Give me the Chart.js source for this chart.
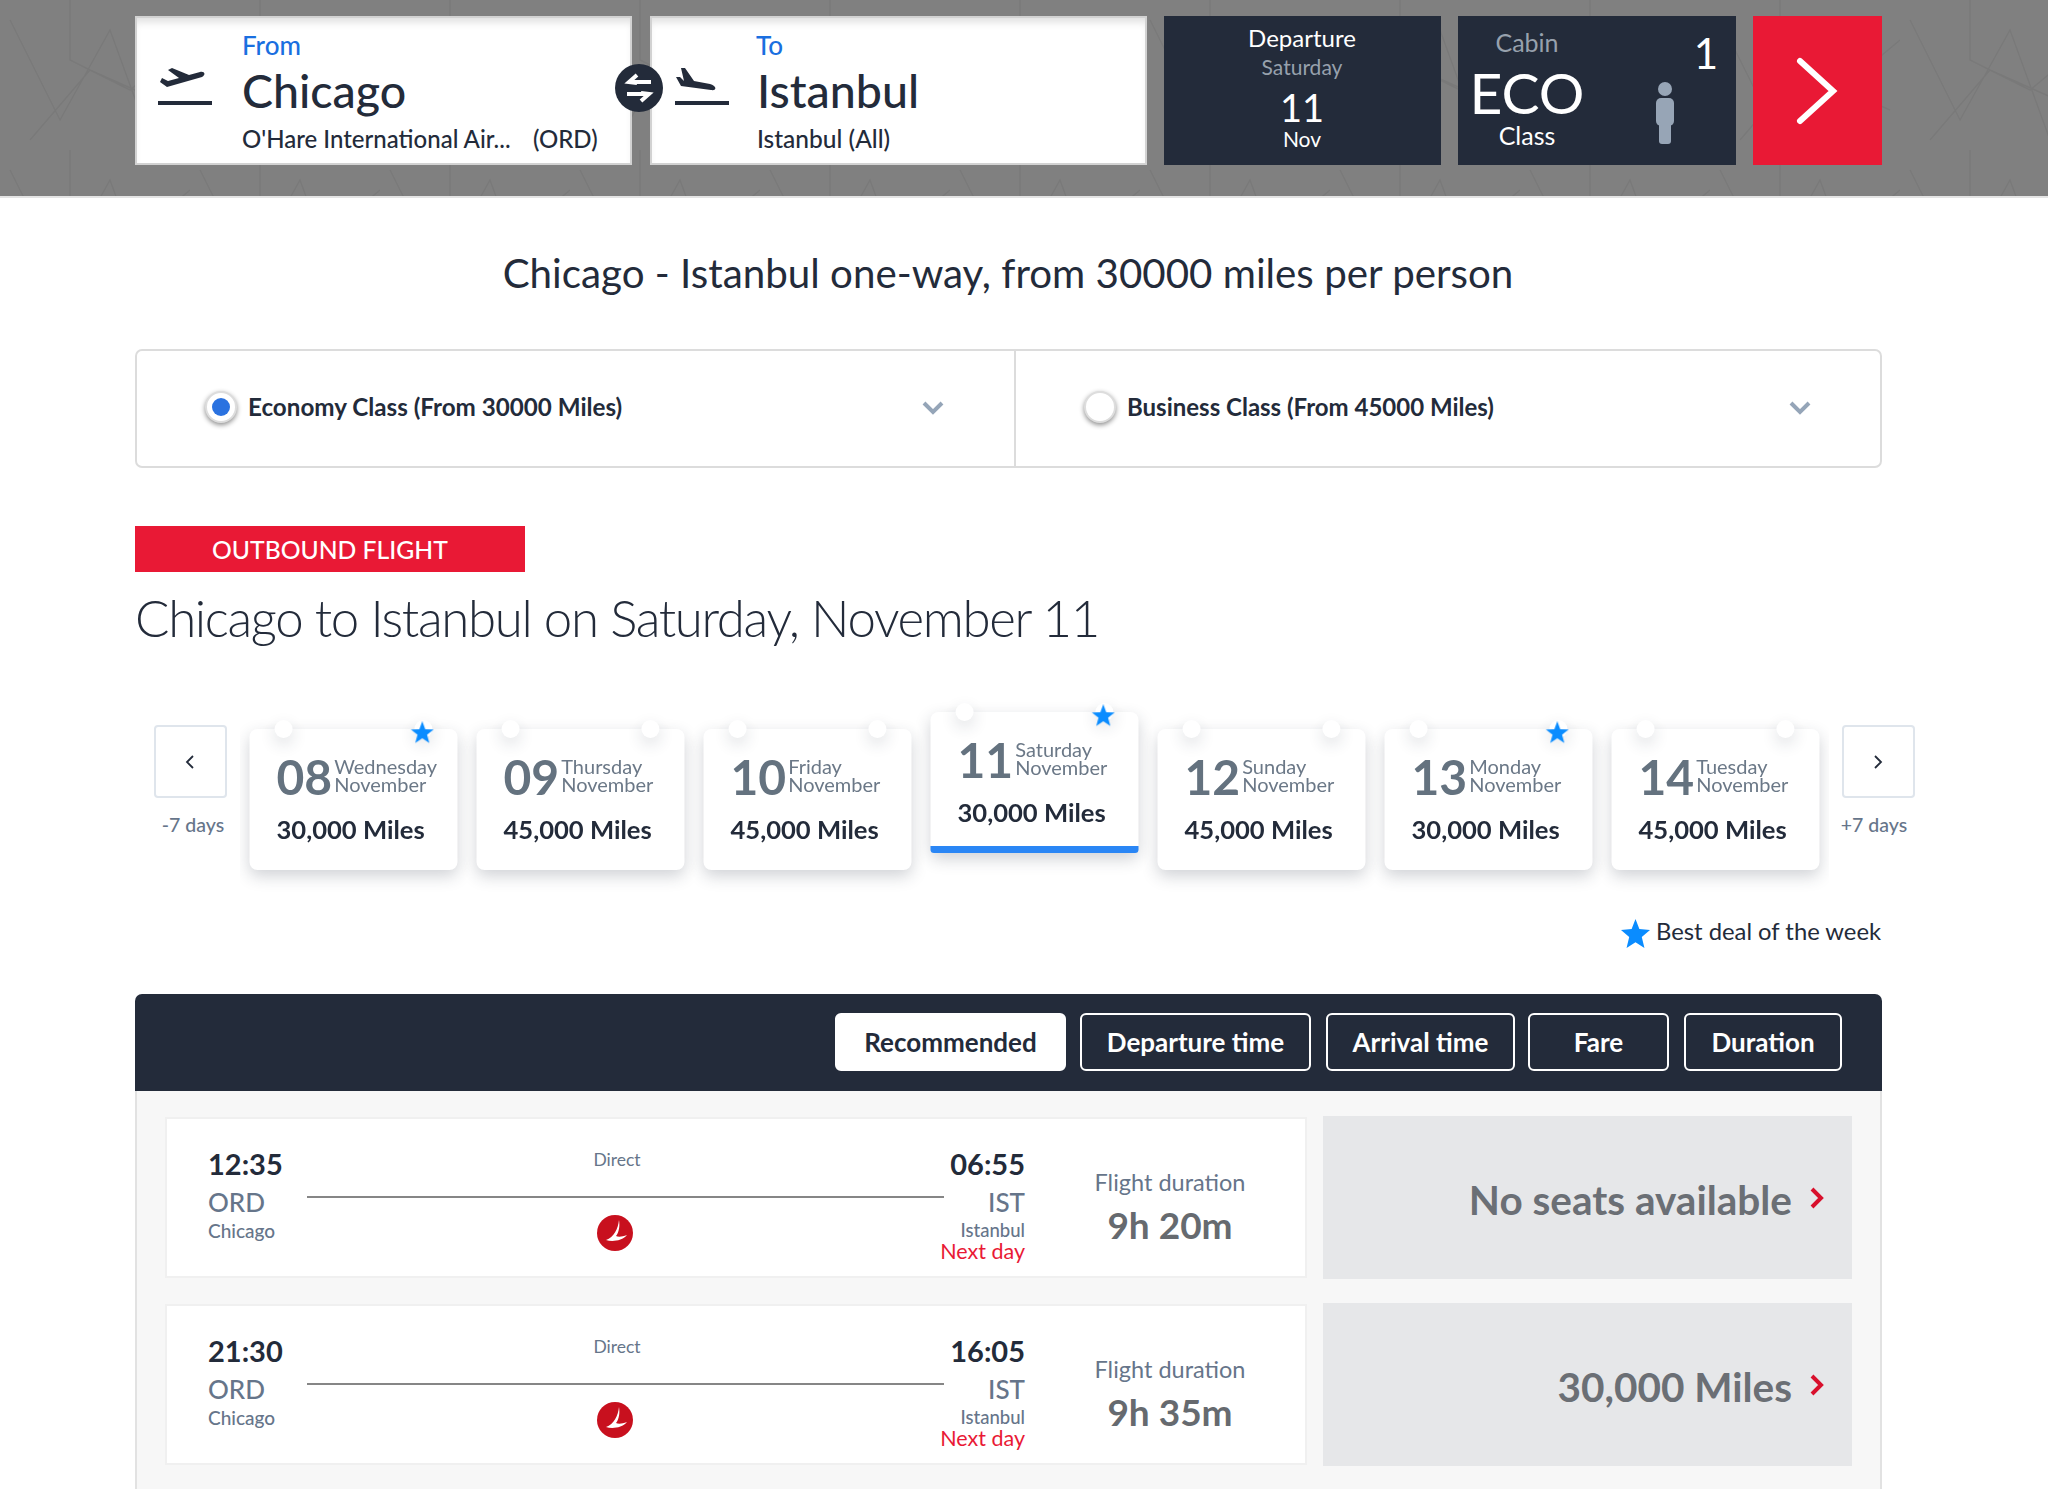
<!DOCTYPE html>
<html lang="en">
<head>
<meta charset="UTF-8">
<title>Chicago - Istanbul miles fares</title>
<script src="https://cdn.jsdelivr.net/npm/chart.js"></script>
<style>
  html, body { margin: 0; background: #fff; }
  #page { position: relative; width: 2048px; height: 1489px; overflow: hidden; font-family: Lato, "Open Sans", sans-serif; color: #232b3a; }
  .box, .txt, svg.ic { position: absolute; }
  .box { box-sizing: border-box; }
  .txt { white-space: nowrap; line-height: 0.86; z-index: 5; }
  #strip { position: absolute; left: 240px; top: 690px; z-index: 2; }
  .btn { display: flex; align-items: center; justify-content: center; border: 2px solid #fff; border-radius: 6px; color: #fff; font-size: 26px; font-weight: 700; }
</style>
</head>
<body>
<div id="page">
  <canvas id="strip" width="1589" height="210"></canvas>
</div>
<script>
// date strip
const dayNumbers = ['08', '09', '10', '11', '12', '13', '14'];
const weekdays = ['Wednesday', 'Thursday', 'Friday', 'Saturday', 'Sunday', 'Monday', 'Tuesday'];
const months = ['November', 'November', 'November', 'November', 'November', 'November', 'November'];
const milesByDay = [30000, 45000, 45000, 30000, 45000, 30000, 45000];
const bestDealDays = ['08', '11', '13'];
const selectedDay = '11';

// flights
const departTimes = ['12:35', '21:30'];
const arriveTimes = ['06:55', '16:05'];
const durations = ['9h 20m', '9h 35m'];
const fares = ['No seats available', '30,000 Miles'];

// sort buttons
const sortLabels = ['Recommended', 'Departure time', 'Arrival time', 'Fare', 'Duration'];

const page = document.getElementById('page');
const INK = '#232b3a', SLATE = '#66758a', RED = '#e91935', NAVY = '#232b3a';

function box(x, y, w, h, css) {
  const d = document.createElement('div');
  d.className = 'box';
  d.style.cssText = `left:${x}px;top:${y}px;width:${w}px;height:${h}px;${css || ''}`;
  page.appendChild(d);
  return d;
}

// align: 0 left, .5 centre, 1 right; cy is the vertical middle of the text
function put(x, cy, text, size, color, align, weight) {
  const s = document.createElement('span');
  s.className = 'txt';
  s.textContent = text;
  s.style.cssText = `left:${x}px;top:${cy}px;font-size:${size}px;color:${color};font-weight:${weight || 400};transform:translate(${-(align || 0) * 100}%,-50%);`;
  page.appendChild(s);
  return s;
}

function icon(x, y, w, h, viewBox, inner) {
  page.insertAdjacentHTML('beforeend', `<svg class="ic" style="left:${x}px;top:${y}px;z-index:5" width="${w}" height="${h}" viewBox="${viewBox}">${inner}</svg>`);
}

// header band
box(0, 0, 2048, 198, 'background:#808080;border-bottom:2px solid #e4e4e4');
page.insertAdjacentHTML('beforeend', `<svg class="ic" style="left:0;top:0" width="2048" height="196"><defs><pattern id="tile" width="190" height="150" patternUnits="userSpaceOnUse"><path d="M10 20L60 120L110 30L150 140M30 140L90 70L180 110M70 0L70 60L130 90L190 40" fill="none" stroke="#797979" stroke-width="1.5"/></pattern></defs><rect width="2048" height="196" fill="url(#tile)"/></svg>`);

const fieldCss = 'background:#fff;border:2px solid #d2d2d2;box-shadow:inset 0 8px 8px -4px rgba(0,0,0,.13)';
box(135, 16, 497, 149, fieldCss);
box(650, 16, 497, 149, fieldCss);
box(1164, 16, 277, 149, `background:${NAVY}`);
box(1458, 16, 278, 149, `background:${NAVY}`);
box(1753, 16, 129, 149, `background:${RED}`);

put(242, 45, 'From', 26, '#1a6fe0', 0, 500);
put(242, 90, 'Chicago', 46.5, INK, 0, 500);
put(242, 139, "O'Hare International Air...", 24, INK, 0, 500);
put(533, 139, '(ORD)', 24, INK, 0, 500);
put(756, 45, 'To', 26, '#1a6fe0', 0, 500);
put(757, 90, 'Istanbul', 46.5, INK, 0, 500);
put(757, 139, 'Istanbul (All)', 24.5, INK, 0, 500);

put(1302, 38, 'Departure', 24, '#fff', 0.5);
put(1302, 67, 'Saturday', 21, '#97a1ad', 0.5);
put(1302, 107, '11', 38, '#fff', 0.5);
put(1302, 139, 'Nov', 21, '#fff', 0.5);
put(1527, 43, 'Cabin', 25, '#97a1ad', 0.5);
put(1527, 93, 'ECO', 57, '#fff', 0.5);
put(1527, 136, 'Class', 25, '#fff', 0.5);
put(1706, 53, '1', 42, '#fff', 0.5);

const takeoff = `<path d="M2 14L9 19L44 9C48 7 47 3 42 4L31 7L14 0L10 2L21 10L10 13L4 10Z M0 33H54V37H0Z" fill="${INK}"/>`;
const landing = `<path d="M6 0L10 0L19 13L35 16C42 18 42 23 36 22L6 18L1 9L5 9L9 13Z M0 33H54V37H0Z" fill="${INK}"/>`;
icon(158, 68, 54, 38, '0 0 54 38', takeoff);
icon(675, 68, 54, 38, '0 0 54 38', landing);
icon(615, 64, 48, 48, '0 0 48 48', `<circle cx="24" cy="24" r="24" fill="${INK}"/><path d="M36 18H16M22 11L14 18L22 19M12 30H32M26 37L34 30L26 29" fill="none" stroke="#fff" stroke-width="4"/>`);
icon(1649, 82, 32, 62, '0 0 32 62', '<circle cx="16" cy="7" r="7" fill="#97a5b6"/><rect x="7" y="16" width="18" height="28" rx="5" fill="#97a5b6"/><rect x="10" y="40" width="12" height="22" rx="3" fill="#97a5b6"/>');
icon(1795, 56, 44, 70, '0 0 44 70', '<path d="M5 5L38 35L5 65" fill="none" stroke="#fff" stroke-width="6" stroke-linecap="round"/>');

// title and cabin selector
put(1008, 273, 'Chicago - Istanbul one-way, from 30000 miles per person', 40.3, INK, 0.5);
box(135, 349, 1747, 119, 'border:2px solid #dcdcdc;border-radius:7px');
box(1014, 350, 2, 117, 'background:#dcdcdc');
box(205, 391, 32, 32, 'border-radius:50%;background:#fff;border:2px solid #ddd;box-shadow:0 2px 5px rgba(0,0,0,.45)');
box(212, 398, 18, 18, 'border-radius:50%;background:#2a72e0');
box(1084, 391, 32, 32, 'border-radius:50%;background:#fff;border:2px solid #ddd;box-shadow:0 2px 5px rgba(0,0,0,.45)');
put(248, 407, 'Economy Class (From 30000 Miles)', 24.2, INK, 0, 700);
put(1127, 407, 'Business Class (From 45000 Miles)', 24, INK, 0, 700);
const selChevron = '<path d="M2 2L11 11L20 2" fill="none" stroke="#95a5b8" stroke-width="4"/>';
icon(922, 401, 22, 14, '0 0 22 14', selChevron);
icon(1789, 401, 22, 14, '0 0 22 14', selChevron);

box(135, 526, 390, 46, `background:${RED}`);
put(212, 550, 'OUTBOUND FLIGHT', 24.7, '#fff', 0, 500);
put(135, 618, 'Chicago to Istanbul on Saturday, November 11', 51, INK, 0, 300).style.letterSpacing = '-1.35px';

// prev / next week
box(154, 725, 73, 73, 'border:2px solid #dfe5ec;border-radius:4px');
box(1842, 725, 73, 73, 'border:2px solid #dfe5ec;border-radius:4px');
icon(185, 754, 10, 16, '0 0 10 16', `<path d="M8 2L2 8L8 14" fill="none" stroke="${INK}" stroke-width="1.8"/>`);
icon(1873, 754, 10, 16, '0 0 10 16', `<path d="M2 2L8 8L2 14" fill="none" stroke="${INK}" stroke-width="1.8"/>`);
put(193, 825, '-7 days', 19.5, SLATE, 0.5, 500);
put(1874, 825, '+7 days', 19.5, SLATE, 0.5, 500);

// filled star, the built in 'star' point style is only strokes
function starImage(size) {
  const c = document.createElement('canvas');
  c.width = c.height = size;
  const g = c.getContext('2d');
  g.fillStyle = '#0a8cff';
  g.beginPath();
  for (let i = 0; i < 10; i++) {
    const r = (i % 2 ? 0.42 : 1) * size / 2;
    const a = -Math.PI / 2 + i * Math.PI / 5;
    g.lineTo(size / 2 + r * Math.cos(a), size / 2 + r * Math.sin(a));
  }
  g.fill();
  return c;
}

// y scale is in card heights, the selected card sits a little higher
const CARD_PX = 141, LIFT = 17 / CARD_PX, NOTCH = 0.308;
const lift = d => (d === selectedDay ? LIFT : 0);

const shadowPlugin = {
  id: 'cardShadow',
  beforeDatasetDraw(chart, args) {
    const ds = chart.data.datasets[args.index];
    chart.ctx.save();
    if (ds.cardShadow) {
      chart.ctx.shadowColor = 'rgba(40,50,70,' + ds.cardShadow + ')';
      chart.ctx.shadowBlur = 16;
      chart.ctx.shadowOffsetY = 6;
    }
  },
  afterDatasetDraw(chart) { chart.ctx.restore(); }
};

const notchPoints = [];
dayNumbers.forEach((d, i) => {
  notchPoints.push({ x: i - NOTCH, y: 1 + lift(d) });
  notchPoints.push({ x: i + NOTCH, y: 1 + lift(d) });
});

const strip = new Chart(document.getElementById('strip'), {
  type: 'bar',
  plugins: [shadowPlugin],
  data: {
    labels: dayNumbers,
    datasets: [
      {
        label: 'Best deal',
        type: 'scatter',
        xAxisID: 'xPoint',
        order: 0,
        clip: false,
        data: bestDealDays.map(d => ({ x: dayNumbers.indexOf(d) + NOTCH - 0.005, y: 0.97 + lift(d) })),
        pointStyle: starImage(24),
        pointRadius: 12
      },
      {
        label: 'Notch',
        type: 'scatter',
        xAxisID: 'xPoint',
        order: 1,
        clip: false,
        cardShadow: 0.16,
        data: notchPoints,
        pointRadius: 9,
        pointBackgroundColor: '#fff',
        pointBorderWidth: 0
      },
      {
        label: 'Selected',
        order: 2,
        grouped: false,
        data: dayNumbers.map(d => (d === selectedDay ? [LIFT, LIFT + 0.05] : null)),
        backgroundColor: '#2a86f5',
        barPercentage: 208 / 227,
        categoryPercentage: 1,
        borderSkipped: false,
        borderRadius: { topLeft: 0, topRight: 0, bottomLeft: 7, bottomRight: 7 }
      },
      {
        label: 'Miles',
        order: 3,
        grouped: false,
        cardShadow: 0.22,
        data: dayNumbers.map(d => [lift(d), 1 + lift(d)]),
        backgroundColor: '#fff',
        barPercentage: 208 / 227,
        categoryPercentage: 1,
        borderSkipped: false,
        borderRadius: 8
      }
    ]
  },
  options: {
    responsive: false,
    animation: false,
    events: [],
    layout: { padding: 0, autoPadding: false },
    plugins: { legend: { display: false }, tooltip: { enabled: false } },
    scales: {
      x: { type: 'category', display: false },
      xPoint: { type: 'linear', display: false, offset: false, min: -0.5, max: 6.5 },
      y: { display: false, min: -30 / CARD_PX, max: 180 / CARD_PX }
    }
  }
});

// card text follows the chart's own scales
const stripLeft = 240, stripTop = 690;
dayNumbers.forEach((d, i) => {
  const cx = stripLeft + strip.scales.x.getPixelForValue(i);
  const top = stripTop + strip.scales.y.getPixelForValue(1 + lift(d));
  const left = cx - 104;
  const num = put(left + 27, top + 48, d, 48, '#64727f', 0, 700);
  const w = num.getBoundingClientRect().width;
  // weekday and month stay one block, their lines sit tight
  const label = put(left + 27 + w + 2, top + 45.5, '', 20, '#6b7887');
  label.style.lineHeight = '18.5px';
  label.append(weekdays[i], document.createElement('br'), months[i]);
  put(left + 27, top + 100, milesByDay[i].toLocaleString('en-US') + ' Miles', 25.6, INK, 0, 700);
});

// legend
icon(1621, 919, 29, 29, '0 0 24 24', '<path d="M12 0L15.2 8.2L24 9.2L17.2 14.8L19.4 24L12 19.2L4.6 24L6.8 14.8L0 9.2L8.8 8.2Z" fill="#0a8cff"/>');
put(1656, 931, 'Best deal of the week', 23.8, INK);

// results panel
box(135, 994, 1747, 97, `background:${NAVY};border-radius:7px 7px 0 0`);
box(135, 1091, 1747, 410, 'background:#f7f7f7;border-left:2px solid #e2e2e2;border-right:2px solid #e2e2e2');

const sortLefts = [835, 1080, 1326, 1528, 1684];
const sortWidths = [231, 231, 189, 141, 158];
sortLabels.forEach((label, i) => {
  const b = box(sortLefts[i], 1013, sortWidths[i], 58, i === 0 ? `background:#fff;color:${INK}` : '');
  b.classList.add('btn');
  b.textContent = label;
});

departTimes.forEach((dep, i) => {
  const dy = i * 187;
  box(165, 1117 + dy, 1142, 161, 'background:#fff;border:2px solid #f0f0f0');
  box(1323, 1116 + dy, 529, 163, 'background:#e6e7e9');
  put(208, 1164 + dy, dep, 29, INK, 0, 700);
  put(208, 1202 + dy, 'ORD', 26, SLATE, 0, 500);
  put(208, 1231 + dy, 'Chicago', 19, SLATE, 0, 500);
  put(617, 1160 + dy, 'Direct', 17.5, SLATE, 0.5);
  box(307, 1196 + dy, 637, 2, 'background:#868686');
  icon(597, 1215 + dy, 36, 36, '0 0 36 36', '<circle cx="18" cy="18" r="18" fill="#c8101e"/><path d="M22 5C21 14 17 22 9 25C15 27 25 26 30 20C25 22 21 22 19 21C22 17 23 11 22 5Z" fill="#fff"/>');
  put(1025, 1164 + dy, arriveTimes[i], 29, INK, 1, 700);
  put(1025, 1202 + dy, 'IST', 26, SLATE, 1, 500);
  put(1025, 1231 + dy, 'Istanbul', 18.5, SLATE, 1, 500);
  put(1025, 1251 + dy, 'Next day', 21.5, RED, 1);
  put(1170, 1182 + dy, 'Flight duration', 23.5, SLATE, 0.5);
  put(1170, 1225 + dy, durations[i], 37, '#666a6f', 0.5, 700);
  put(1792, 1200 + dy, fares[i], 40.5, '#6b6f75', 1, 700);
  icon(1810, 1187 + dy, 14, 22, '0 0 14 22', `<path d="M2 2L11 11L2 20" fill="none" stroke="#d8102c" stroke-width="4"/>`);
});
</script>
</body>
</html>
